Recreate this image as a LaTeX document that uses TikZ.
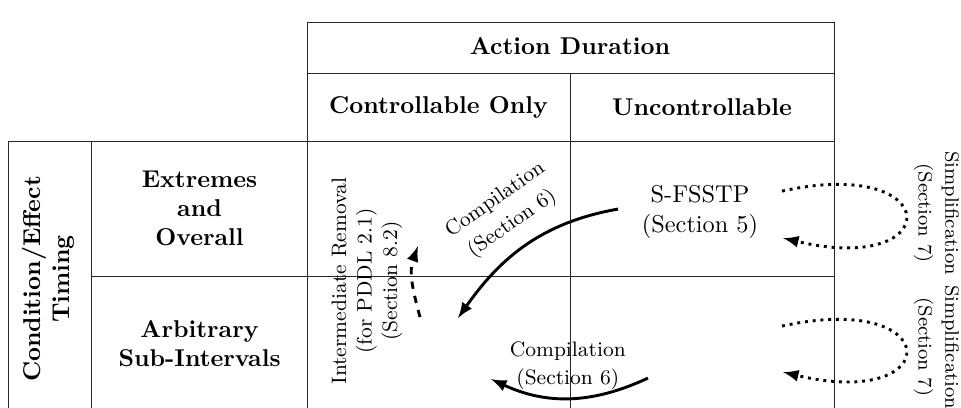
\documentclass[tikz,border=0pt]{standalone}
\usepackage{tikz}

\begin{document}
\begin{tikzpicture}[scale=1.0,
    grid/.style={thin, black!85},
    head/.style={font=\bfseries, align=center, inner sep=1pt},
    lbl/.style={font=\fontsize{8.6}{10.5}\selectfont, align=center, inner sep=1pt},
    simp/.style={font=\fontsize{8}{11}\selectfont, align=center, inner sep=1pt, rotate=-90},
    arr/.style={very thick, -latex}]
                \useasboundingbox (0,0) rectangle (13.896,5.886);

                % table lines
                \draw[grid] (4.439,-0.2) -- (4.439,5.567) -- (12.06,5.567) -- (12.06,-0.2);
                \draw[grid] (4.439,4.830) -- (12.06,4.830);
                \draw[grid] (8.242,4.830) -- (8.242,-0.2);
                \draw[grid] (0.116,-0.2) -- (0.116,3.846) -- (12.06,3.846);
                \draw[grid] (1.330,3.846) -- (1.330,-0.2);
                \draw[grid] (1.330,1.894) -- (12.06,1.894);

                % column headers
                \node[head] (dur) at (8.242,5.220) {Action Duration};
                \node[head] (ctrl) at (6.341,4.338) {Controllable Only};
                \node[head] (unctrl) at (10.151,4.338) {Uncontrollable};

                % row headers
                \node[head, rotate=90] (timing) at (0.694,1.851) {Condition/Effect\\Timing};
                \node[head] (extr) at (2.885,2.871) {Extremes\\and\\Overall};
                \node[head] (arb) at (2.885,0.911) {Arbitrary\\Sub-Intervals};

                % cell contents
                \node[align=center, inner sep=1pt] (sfsstp) at (10.122,2.820) {S-FSSTP\\(Section 5)};
                \node[lbl, rotate=90] (interm) at (5.307,1.822) {Intermediate Removal\\(for PDDL 2.1)\\(Section 8.2)};
                \node[lbl, rotate=35, font=\fontsize{8.6}{12}\selectfont] (compa) at (7.288,2.820) {Compilation\\(Section 6)};
                \node[lbl, font=\fontsize{8.6}{11.5}\selectfont] (compb) at (8.210,0.593) {Compilation\\(Section 6)};
                \node[simp] (simpa) at (13.54,2.805) {Simplification\\(Section 7)};
                \node[simp] (simpb) at (13.54,0.868) {Simplification\\(Section 7)};

                % arrow ends
                \coordinate (ca0) at (8.936,2.863);
                \coordinate (ca1) at (6.623,1.287);
                \coordinate (ir0) at (6.073,1.301);
                \coordinate (ir1) at (6.044,2.328);
                \coordinate (cb0) at (9.370,0.419);
                \coordinate (cb1) at (7.100,0.405);
                \coordinate (sa0) at (11.308,3.123);
                \coordinate (sa1) at (11.322,2.444);
                \coordinate (sb0) at (11.308,1.171);
                \coordinate (sb1) at (11.322,0.506);

                % compilations
                \draw[arr] (ca0) to[out=190, in=55] (ca1);
                \draw[arr] (cb0) to[out=205, in=-25] (cb1);

                % intermediate removal
                \draw[arr, dashed] (ir0) to[out=105, in=-110] (ir1);

                % simplification loops
                \draw[arr, dotted] (sa0) .. controls (13.679,3.644) and (13.679,1.880) .. (sa1);
                \draw[arr, dotted] (sb0) .. controls (13.679,1.692) and (13.679,-0.058) .. (sb1);
\end{tikzpicture}
\end{document}
